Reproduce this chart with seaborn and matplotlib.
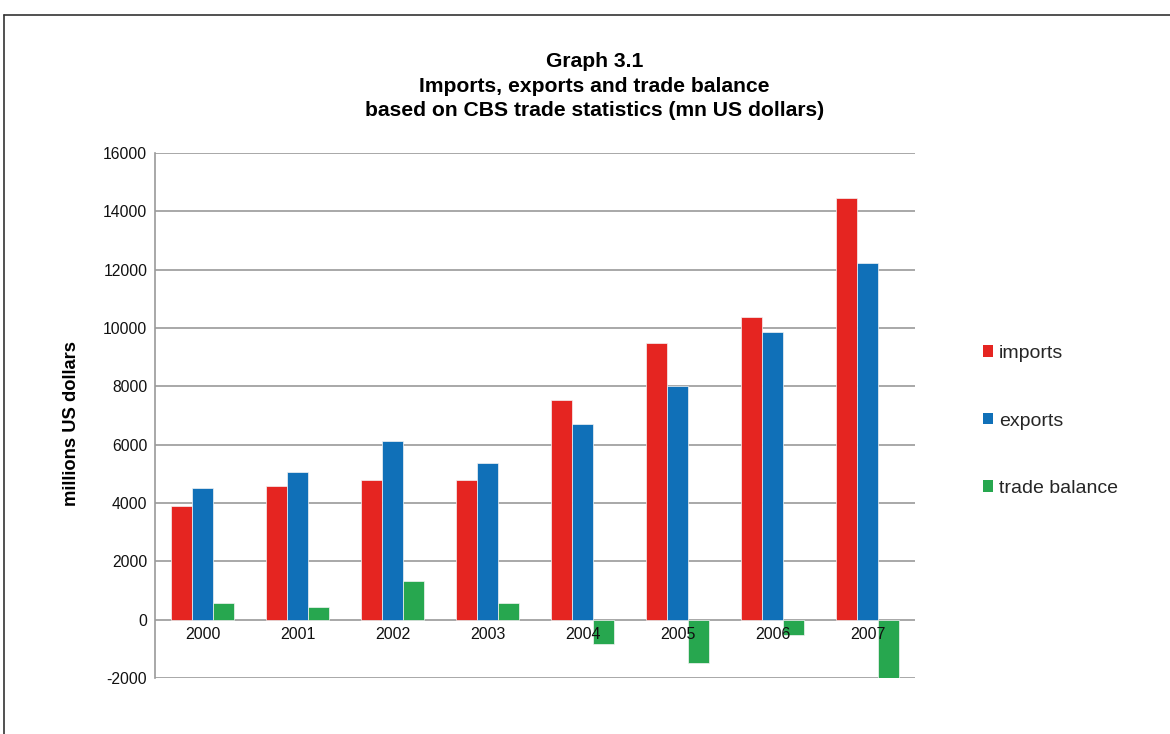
import matplotlib
matplotlib.use("Agg")
import matplotlib.pyplot as plt
import seaborn as sns
import pandas as pd
from matplotlib.patches import Patch
from matplotlib.lines import Line2D

years = ["2000", "2001", "2002", "2003", "2004", "2005", "2006", "2007"]
imports = [3910, 4580, 4790, 4800, 7530, 9500, 10390, 14470]
exports = [4515, 5050, 6125, 5385, 6700, 8010, 9875, 12240]
trade_balance = [585, 450, 1335, 570, -835, -1490, -515, -2115]
series_names = ["imports", "exports", "trade balance"]
colors = ["#E52521", "#1070B8", "#27A74F"]
yticks = [-2000, 0, 2000, 4000, 6000, 8000, 10000, 12000, 14000, 16000]

df = pd.DataFrame({
    "year": years * 3,
    "value": imports + exports + trade_balance,
    "series": [series_names[0]] * 8 + [series_names[1]] * 8 + [series_names[2]] * 8,
})

sns.set_theme(style="white")
plt.rcParams["font.family"] = ["Liberation Sans", "DejaVu Sans"]

fig = plt.figure(figsize=(11.7, 7.34), dpi=100)
ax = fig.add_axes([155 / 1170, 1 - 678 / 734, 760 / 1170, (678 - 153) / 734])

sns.barplot(data=df, x="year", y="value", hue="series", order=years,
            hue_order=series_names, palette=colors, width=0.66,
            edgecolor="#f4f4f4", linewidth=0.5, saturation=1, ax=ax, legend=False)

ax.set_ylim(-2000, 16000)
ax.set_xlim(-0.5, 7.5)
ax.set_yticks(yticks)
ax.set_yticklabels([str(t) for t in yticks], fontsize=11.3, color="#111111")
ax.set_xticks([])
ax.set_xlabel("")
ax.set_ylabel("millions US dollars", fontsize=13.2, fontweight="bold", color="black")
ax.yaxis.set_label_coords(-0.0987, 0.484)
ax.grid(axis="y", color="#9a9a9a", linewidth=1.2)
ax.set_axisbelow(True)
for s in ["top", "right", "bottom"]:
    ax.spines[s].set_visible(False)
ax.spines["left"].set_color("#9a9a9a")
ax.spines["left"].set_linewidth(1.2)
ax.tick_params(axis="y", length=4, width=1.2, color="#9a9a9a", direction="out", pad=1.5)

for i, y in enumerate(years):
    ax.annotate(y, xy=(i, 0), xytext=(0, -5.5), textcoords="offset points",
                ha="center", va="top", fontsize=11.5, color="#111111", zorder=5)

fig.text(0.508, 1 - 86 / 734, "Graph 3.1\nImports, exports and trade balance\nbased on CBS trade statistics (mn US dollars)",
         ha="center", va="center", fontsize=15.2, fontweight="bold", linespacing=1.38,
         color="black")

handles = [Patch(facecolor=c, edgecolor="none") for c in colors]
fig.legend(handles, series_names, loc="center left",
           bbox_to_anchor=(965 / 1170, 1 - 421 / 734), frameon=False,
           fontsize=14, handlelength=0.55, handleheight=0.55, handletextpad=0.3,
           labelspacing=2.6)

# outer border
fig.add_artist(Line2D([4 / 1170, 4 / 1170], [0, 1 - 15 / 734], color="#333333", lw=1.2))
fig.add_artist(Line2D([4 / 1170, 1], [1 - 15 / 734, 1 - 15 / 734], color="#333333", lw=1.2))

fig.savefig("out.png", dpi=100)
